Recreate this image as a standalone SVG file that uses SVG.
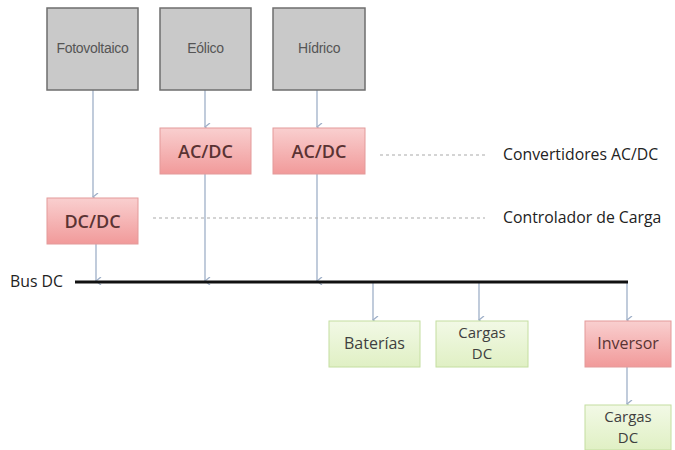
<svg xmlns="http://www.w3.org/2000/svg" width="675" height="450" viewBox="0 0 675 450">
<defs>
<linearGradient id="gPink" x1="0" y1="0" x2="0" y2="1">
<stop offset="0" stop-color="#f9cfcf"/><stop offset="1" stop-color="#f19a9a"/>
</linearGradient>
<linearGradient id="gGreen" x1="0" y1="0" x2="0" y2="1">
<stop offset="0" stop-color="#f2f9e6"/><stop offset="1" stop-color="#e0f0c4"/>
</linearGradient>
<marker id="arr" markerWidth="8" markerHeight="8" refX="4" refY="6" orient="auto" markerUnits="userSpaceOnUse">
<path d="M0,1 L4,6 L8,1" fill="none" stroke="#9fb0c8" stroke-width="1.3"/>
</marker>
<style>
.src{fill:#c9c9c9;stroke:#6e6e6e;stroke-width:1.5}
.pk{fill:url(#gPink);stroke:#e39a9a;stroke-width:1}
.gr{fill:url(#gGreen);stroke:#c4dea0;stroke-width:1}
.t1{font-family:"Liberation Sans",Arial,sans-serif;font-size:14px;fill:#555;text-anchor:middle;letter-spacing:-0.3px}
.t2{font-family:"Open Sans","Liberation Sans",sans-serif;font-size:18px;font-weight:600;fill:#5a3333;text-anchor:middle}
.t3{font-family:"Open Sans","Liberation Sans",sans-serif;font-size:16px;fill:#3f3f3f;text-anchor:middle}
.t3s{font-family:"Open Sans","Liberation Sans",sans-serif;font-size:15px;fill:#3f3f3f;text-anchor:middle}
.t4{font-family:"Open Sans","Liberation Sans",sans-serif;font-size:15.8px;fill:#222}
.c{stroke:#9fb0c8;stroke-width:1.3;fill:none}
.d{stroke:#aaa;stroke-width:1.2;stroke-dasharray:3,3;fill:none}
</style>
</defs>
<g id="connectors">
<line class="c" x1="93" y1="90" x2="93" y2="197" marker-end="url(#arr)"/>
<line class="c" x1="205" y1="90" x2="205" y2="127" marker-end="url(#arr)"/>
<line class="c" x1="317" y1="90" x2="317" y2="127" marker-end="url(#arr)"/>
<line class="c" x1="96" y1="244" x2="96" y2="281" marker-end="url(#arr)"/>
<line class="c" x1="205" y1="174" x2="205" y2="281" marker-end="url(#arr)"/>
<line class="c" x1="317" y1="174" x2="317" y2="281" marker-end="url(#arr)"/>
<line class="c" x1="373" y1="283" x2="373" y2="320" marker-end="url(#arr)"/>
<line class="c" x1="479" y1="283" x2="479" y2="320" marker-end="url(#arr)"/>
<line class="c" x1="627" y1="283" x2="627" y2="320" marker-end="url(#arr)"/>
<line class="c" x1="627" y1="367" x2="627" y2="404" marker-end="url(#arr)"/>
<line class="d" x1="380" y1="155" x2="485" y2="155"/>
<line class="d" x1="153" y1="218" x2="485" y2="218"/>
</g>
<g id="bus">
<line x1="75" y1="282" x2="628" y2="282" stroke="#111" stroke-width="3"/>
<text class="t4" x="10" y="287">Bus DC</text>
</g>
<g id="fotovoltaico"><rect class="src" x="47" y="8" width="91" height="82"/><text class="t1" x="92.5" y="53">Fotovoltaico</text></g>
<g id="eolico"><rect class="src" x="160" y="8" width="91" height="82"/><text class="t1" x="205.5" y="53">Eólico</text></g>
<g id="hidrico"><rect class="src" x="273" y="8" width="92" height="82"/><text class="t1" x="319" y="53">Hídrico</text></g>
<g id="acdc1"><rect class="pk" x="160" y="128" width="91" height="46"/><text class="t2" x="205.5" y="158">AC/DC</text></g>
<g id="acdc2"><rect class="pk" x="273" y="128" width="92" height="46"/><text class="t2" x="319" y="158">AC/DC</text></g>
<g id="dcdc"><rect class="pk" x="47" y="198" width="91" height="46"/><text class="t2" x="92.5" y="228">DC/DC</text></g>
<g id="lbl-conv"><text class="t4" x="503" y="160">Convertidores AC/DC</text></g>
<g id="lbl-ctrl"><text class="t4" x="503" y="223">Controlador de Carga</text></g>
<g id="baterias"><rect class="gr" x="329" y="321" width="91" height="46"/><text class="t3" x="374.5" y="349">Baterías</text></g>
<g id="cargasdc1"><rect class="gr" x="436" y="321" width="92" height="46"/><text class="t3s" x="482" y="338">Cargas</text><text class="t3s" x="482" y="359">DC</text></g>
<g id="inversor"><rect class="pk" x="585" y="321" width="86" height="46"/><text class="t3" x="628" y="349" style="fill:#5a3333">Inversor</text></g>
<g id="cargasdc2"><rect class="gr" x="585" y="405" width="86" height="45"/><text class="t3s" x="628" y="422">Cargas</text><text class="t3s" x="628" y="443">DC</text></g>
</svg>
